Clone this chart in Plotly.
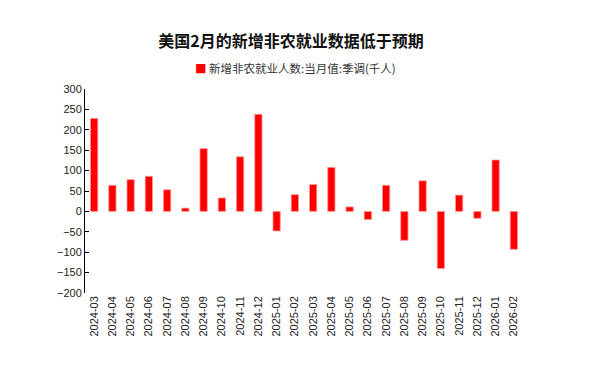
import plotly.graph_objects as go

months = ["2024-03", "2024-04", "2024-05", "2024-06", "2024-07", "2024-08",
          "2024-09", "2024-10", "2024-11", "2024-12", "2025-01", "2025-02",
          "2025-03", "2025-04", "2025-05", "2025-06", "2025-07", "2025-08",
          "2025-09", "2025-10", "2025-11", "2025-12", "2026-01", "2026-02"]
payrolls = [228, 64, 78, 86, 53, 8, 154, 33, 134, 238, -48, 41,
            66, 108, 11, -20, 64, -71, 75, -140, 40, -17, 126, -93]
series_name = "新增非农就业人数:当月值:季调(千人)"
title_text = "美国2月的新增非农就业数据低于预期"
y_ticks = [300, 250, 200, 150, 100, 50, 0, -50, -100, -150, -200]

n = len(months)
fig = go.Figure()
fig.add_trace(go.Bar(
    x=list(range(n)), y=payrolls, name=series_name,
    marker=dict(color="#ff0000", line=dict(color="#ff9a9a", width=0.8)),
    width=0.4, showlegend=False,
))

font_lat = "Liberation Sans, Arial, sans-serif"
fig.add_annotation(
    xref="paper", yref="paper", x=(295 - 85) / 438, y=1 + (89 - 68) / 204,
    xanchor="center", yanchor="middle", showarrow=False,
    text="<span style='color:#ff0000'>■</span> " + series_name,
    font=dict(family="Noto Sans CJK SC", size=11.5, color="#333333"),
)
fig.update_layout(
    width=616, height=376,
    margin=dict(l=77, r=101, t=81, b=91),
    paper_bgcolor="white", plot_bgcolor="white",
    title=dict(text="<b>" + title_text + "</b>", x=283 / 616, xanchor="center",
               y=1 - 33 / 376, yanchor="middle",
               font=dict(family="Noto Sans CJK SC", size=16, color="#111111")),
    showlegend=False,
    xaxis=dict(range=[-0.5, n - 0.5], tickmode="array", tickvals=list(range(n)),
               ticktext=months, tickangle=-90, showline=False, ticks="",
               showgrid=False, zeroline=False, automargin=False,
               tickfont=dict(family=font_lat, size=11, color="#222222")),
    xaxis2=dict(overlaying="x", anchor="free", position=0.4, range=[-0.5, n - 0.5],
                tickmode="array", tickvals=[i - 0.5 for i in range(n + 1)],
                showticklabels=False, ticks="inside", ticklen=4, tickcolor="black",
                showline=True, linecolor="black", linewidth=1.2, automargin=False,
                showgrid=False, zeroline=False),
    yaxis=dict(range=[-200, 300], tickmode="array", tickvals=y_ticks,
               ticks="inside", ticklen=4, tickcolor="black",
               showline=True, linecolor="black", linewidth=1, automargin=False,
               showgrid=False, zeroline=False,
               tickfont=dict(family=font_lat, size=11, color="#222222")),
)
fig.write_html("out.html")
